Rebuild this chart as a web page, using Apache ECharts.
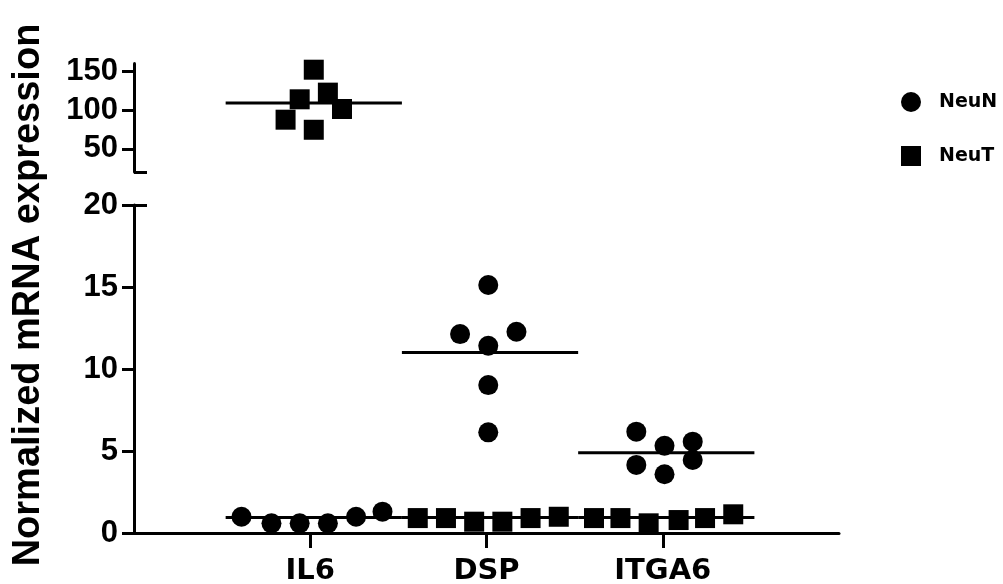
<!DOCTYPE html>
<html>
<head>
<meta charset="utf-8">
<script src="https://cdn.jsdelivr.net/npm/echarts@6/dist/echarts.min.js"></script>
<style>
html,body{margin:0;padding:0;background:#fff;}
#chart{width:1003px;height:584px;}
</style>
</head>
<body>
<div id="chart"></div>
<script>
// ---- data ----
const categories = ['IL6', 'DSP', 'ITGA6'];
const seriesNames = ['NeuN', 'NeuT'];

// NeuN values per gene
const neuNIL6 = [0.99, 0.59, 0.59, 0.59, 0.99, 1.30];
const neuNDSP = [15.12, 12.13, 12.27, 11.42, 9.02, 6.14];
const neuNITGA6 = [6.18, 4.15, 5.32, 3.58, 5.57, 4.45];
// NeuT values per gene
const neuTIL6 = [152, 113.8, 122.4, 87.5, 101.3, 74.5];
const neuTDSP = [0.91, 0.91, 0.69, 0.69, 0.91, 0.99];
const neuTITGA6 = [0.91, 0.91, 0.59, 0.79, 0.91, 1.14];

// horizontal scatter (jitter) of each dot, in category units
const neuNIL6Jitter = [-0.39, -0.22, -0.06, 0.10, 0.26, 0.41];
const neuNDSPJitter = [0.01, -0.15, 0.17, 0.01, 0.01, 0.01];
const neuNITGA6Jitter = [-0.15, -0.15, 0.01, 0.01, 0.17, 0.17];
const neuTIL6Jitter = [0.02, -0.06, 0.10, -0.14, 0.18, 0.02];
const neuTDSPJitter = [-0.39, -0.23, -0.07, 0.09, 0.25, 0.41];
const neuTITGA6Jitter = [-0.39, -0.24, -0.08, 0.09, 0.24, 0.40];

// group means (horizontal bars)
const neuNMeans = [0.95, 11.0, 4.9];
const neuTMeans = [109, 0.95, 0.95];

// axis ticks
const lowTicks = [0, 5, 10, 15, 20];
const highTicks = [50, 100, 150];
const lowRange = [0, 20];
const highRange = [20, 160];

// ---- build ----
const BREAK = lowRange[1];
function split(groups, jitters) {
  const low = [], high = [];
  groups.forEach((vals, ci) => {
    vals.forEach((v, j) => {
      const pt = [ci + 1 + jitters[ci][j], v];
      (v > BREAK ? high : low).push(pt);
    });
  });
  return {low, high};
}
const neuN = split([neuNIL6, neuNDSP, neuNITGA6], [neuNIL6Jitter, neuNDSPJitter, neuNITGA6Jitter]);
const neuT = split([neuTIL6, neuTDSP, neuTITGA6], [neuTIL6Jitter, neuTDSPJitter, neuTITGA6Jitter]);

const black = '#000';
const xTickFont = {color: black, fontFamily: 'DejaVu Sans', fontWeight: 'bold', fontSize: 29};
const yTickFont = {color: black, fontFamily: 'Liberation Sans', fontWeight: 'bold', fontSize: 31};

function scatter(name, symbol, data, idx) {
  return {
    type: 'scatter', name, symbol, symbolSize: 20,
    xAxisIndex: idx, yAxisIndex: idx, data,
    itemStyle: {color: black, opacity: 1}, silent: true, z: 3
  };
}
const meanSeries = [];
[neuNMeans, neuTMeans].forEach(means => {
  means.forEach((m, ci) => {
    const idx = m > BREAK ? 1 : 0;
    meanSeries.push({
      type: 'line', xAxisIndex: idx, yAxisIndex: idx,
      data: [[ci + 1 - 0.48, m], [ci + 1 + 0.52, m]],
      symbol: 'none', silent: true, z: 2,
      lineStyle: {color: black, width: 3}
    });
  });
});

const chart = echarts.init(document.getElementById('chart'), null, {renderer: 'canvas'});
chart.setOption({
  animation: false,
  backgroundColor: '#fff',
  grid: [
    {left: 134, right: 164, top: 205, bottom: 51, containLabel: false, outerBoundsMode: 'none'},
    {left: 134, right: 164, top: 63.5, bottom: 412, containLabel: false, outerBoundsMode: 'none'}
  ],
  legend: {
    orient: 'vertical', left: 896, top: 87,
    itemWidth: 20, itemHeight: 20, itemGap: 34,
    data: [{name: seriesNames[0], icon: 'circle'}, {name: seriesNames[1], icon: 'rect'}],
    textStyle: {color: black, fontFamily: 'DejaVu Sans', fontWeight: 'bold', fontSize: 19, padding: [0, 0, 0, 13]},
    selectedMode: false
  },
  xAxis: [
    {
      type: 'value', gridIndex: 0, min: 0, max: categories.length + 1,
      axisLine: {show: true, lineStyle: {color: black, width: 3}},
      axisTick: {show: true, length: 15, lineStyle: {color: black, width: 3}, customValues: categories.map((c, i) => i + 1)},
      axisLabel: Object.assign({margin: 24, customValues: categories.map((c, i) => i + 1),
        formatter: v => categories[Math.round(v) - 1] || ''}, xTickFont),
      splitLine: {show: false}
    },
    {type: 'value', gridIndex: 1, min: 0, max: categories.length + 1, show: false}
  ],
  yAxis: [
    {
      type: 'value', gridIndex: 0, min: lowRange[0], max: lowRange[1], interval: lowTicks[1] - lowTicks[0],
      axisLine: {show: true, lineStyle: {color: black, width: 3}},
      axisTick: {show: true, length: 12, lineStyle: {color: black, width: 3}},
      axisLabel: Object.assign({margin: 16}, yTickFont),
      splitLine: {show: false}
    },
    {
      type: 'value', gridIndex: 1, min: highRange[0], max: highRange[1],
      axisLine: {show: true, lineStyle: {color: black, width: 3}},
      axisTick: {show: true, length: 12, lineStyle: {color: black, width: 3}, customValues: highTicks},
      axisLabel: Object.assign({margin: 16, customValues: highTicks}, yTickFont),
      splitLine: {show: false}
    },
    {
      type: 'value', gridIndex: 1, position: 'left', min: highRange[0], max: highRange[1],
      axisLine: {show: false},
      axisTick: {show: true, inside: true, length: 13, lineStyle: {color: black, width: 3}, customValues: [highRange[0]]},
      axisLabel: {show: false}, splitLine: {show: false}
    },
    {
      type: 'value', gridIndex: 0, position: 'left', min: lowRange[0], max: lowRange[1],
      axisLine: {show: false},
      axisTick: {show: true, inside: true, length: 13, lineStyle: {color: black, width: 3}, customValues: [lowRange[1]]},
      axisLabel: {show: false}, splitLine: {show: false}
    }
  ],
  graphic: [{
    type: 'text', x: 29, y: 295, rotation: Math.PI / 2,
    style: {
      text: 'Normalized mRNA expression', fill: black,
      fontFamily: 'Liberation Sans', fontSize: 38, fontWeight: 'bold',
      align: 'center', verticalAlign: 'middle', textAlign: 'center', textVerticalAlign: 'middle'
    }
  }],
  series: [
    scatter(seriesNames[0], 'circle', neuN.low, 0),
    scatter(seriesNames[0], 'circle', neuN.high, 1),
    scatter(seriesNames[1], 'rect', neuT.low, 0),
    scatter(seriesNames[1], 'rect', neuT.high, 1)
  ].concat(meanSeries)
});
</script>
</body>
</html>
